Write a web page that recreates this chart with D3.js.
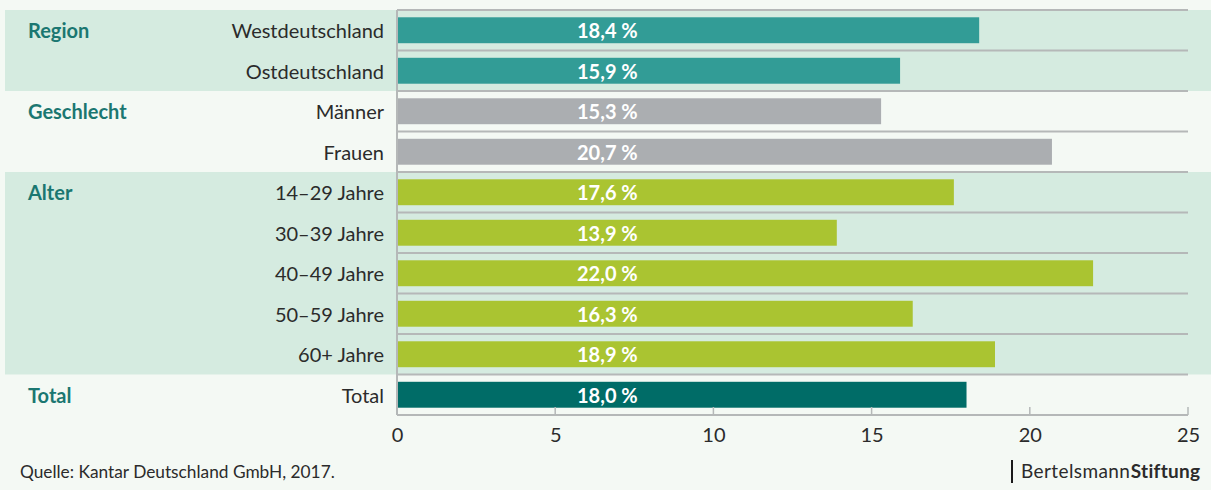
<!DOCTYPE html>
<html><head><meta charset="utf-8">
<script src="https://cdn.jsdelivr.net/npm/d3@7"></script>
<style>html,body{margin:0;padding:0;background:#f4f9f4;}svg{display:block;font-family:Lato,"Open Sans",sans-serif;}</style>
</head><body><svg id="c" width="1211" height="490"></svg>
<script>
const categories = ["Westdeutschland","Ostdeutschland","Männer","Frauen","14–29 Jahre","30–39 Jahre","40–49 Jahre","50–59 Jahre","60+ Jahre","Total"];
const values = [18.4,15.9,15.3,20.7,17.6,13.9,22.0,16.3,18.9,18.0];
const groupOf = ["Region","Region","Geschlecht","Geschlecht","Alter","Alter","Alter","Alter","Alter","Total"];
const groups = ["Region","Geschlecht","Alter","Total"];
const groupColors = ["#329c96","#abaeb1","#aac431","#006c67"];
const groupShaded = [true,false,true,false];
const xTicks = [0,5,10,15,20,25];

const svg = d3.select("#c");
const W = 1211, H = 490;
svg.append("rect").attr("width",W).attr("height",H).attr("fill","#f4f9f4");

const x = d3.scaleLinear().domain([0,25]).range([397,1188]);
const y = d3.scaleBand().domain(categories).range([10,415]).paddingInner(0.36).paddingOuter(0.18);
const step = y.step();
const rowTop = c => y(c) - y.paddingInner()*step/2;

groups.forEach((g,gi)=>{
  const cats = categories.filter((c,i)=>groupOf[i]===g);
  const top = rowTop(cats[0]);
  const bot = rowTop(cats[cats.length-1]) + step;
  if(groupShaded[gi]) svg.append("rect").attr("x",5).attr("y",top).attr("width",W-5).attr("height",bot-top).attr("fill","#d5ebe0");
  svg.append("text").attr("x",28).attr("y",rowTop(cats[0])+step/2+1).attr("dy","0.35em")
    .attr("font-size",20).attr("font-weight",700).attr("fill","#1b7771").text(g);
});

const bounds = categories.map(c=>rowTop(c)).concat([rowTop(categories[categories.length-1])+step]);
svg.selectAll("line.grid").data(bounds).enter().append("line")
  .attr("x1",x(0)).attr("x2",x(25)).attr("y1",d=>d).attr("y2",d=>d)
  .attr("stroke","#b5b8b8").attr("stroke-width",2);

svg.selectAll("rect.bar").data(categories).enter().append("rect")
  .attr("x",x(0)).attr("y",d=>y(d)).attr("height",y.bandwidth())
  .attr("width",(d,i)=>x(values[i])-x(0))
  .attr("fill",(d,i)=>groupColors[groups.indexOf(groupOf[i])]);

const fmt = v => v.toFixed(1).replace(".",",") + " %";
svg.selectAll("text.val").data(categories).enter().append("text")
  .attr("x",x(0)+180).attr("y",d=>y(d)+y.bandwidth()/2+1).attr("dy","0.36em")
  .attr("font-size",20).attr("font-weight",700).attr("fill","#ffffff")
  .text((d,i)=>fmt(values[i]));

svg.selectAll("text.cat").data(categories).enter().append("text")
  .attr("x",384).attr("y",d=>y(d)+y.bandwidth()/2+1).attr("dy","0.36em")
  .attr("text-anchor","end").attr("font-size",20).attr("fill","#2b2b2b").text(d=>d);

svg.append("line").attr("x1",x(0)).attr("x2",x(0)).attr("y1",10).attr("y2",415).attr("stroke","#b5b8b8").attr("stroke-width",2);

const ax = svg.append("g").attr("transform","translate(0,415)")
  .call(d3.axisBottom(x).tickValues(xTicks).tickSize(0).tickPadding(13).tickFormat(d3.format("d")));
ax.select(".domain").remove();
ax.selectAll("text").attr("font-size",20).attr("fill","#2b2b2b").attr("font-family","Lato,sans-serif");
svg.selectAll("line.tick").data(xTicks).enter().append("line")
  .attr("x1",d=>x(d)).attr("x2",d=>x(d)).attr("y1",407).attr("y2",415)
  .attr("stroke","#b5b8b8").attr("stroke-width",1.5);

svg.append("text").attr("x",20).attr("y",478).attr("font-size",17.3).attr("fill","#2b2b2b").text("Quelle: Kantar Deutschland GmbH, 2017.");
svg.append("line").attr("x1",1012).attr("x2",1012).attr("y1",460).attr("y2",483).attr("stroke","#1a1a1a").attr("stroke-width",2);
const bs = svg.append("text").attr("x",1021).attr("y",478).attr("font-size",19).attr("fill","#2b2b2b");
bs.append("tspan").attr("letter-spacing",0.4).text("Bertelsmann");
bs.append("tspan").attr("font-weight",700).attr("dx",0.5).attr("letter-spacing",0.3).text("Stiftung");
</script></body></html>
